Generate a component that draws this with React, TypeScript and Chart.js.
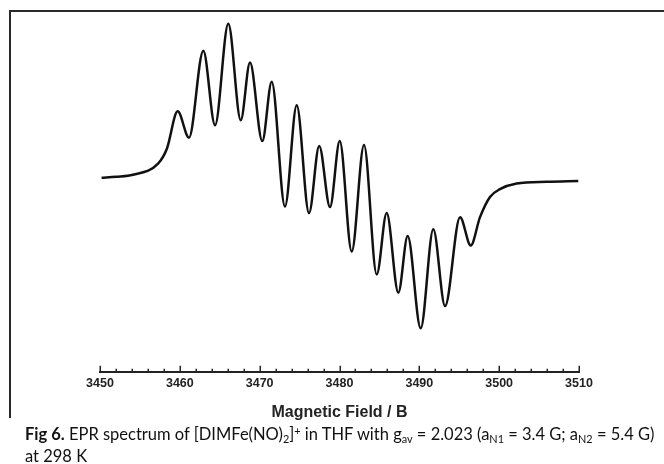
import React, { useEffect, useRef } from 'react';
import { Chart, registerables } from 'chart.js';

Chart.register(...registerables);

// Magnetic field (G) at the curve's turning points / shape points
const fieldB = [
  3450.2, 3452.0, 3454.13, 3457.27, 3458.39, 3459.73, 3461.15, 3462.94, 3464.41,
  3466.07, 3467.63, 3468.79, 3470.33, 3471.51, 3473.17, 3474.64, 3476.18,
  3477.46, 3478.81, 3480.03, 3481.53, 3483.07, 3484.66, 3485.91, 3487.37,
  3488.54, 3490.17, 3491.75, 3493.22, 3495.10, 3496.44, 3497.60, 3498.85,
  3500.10, 3502.20, 3505.96, 3509.91,
];

// EPR first-derivative signal (arbitrary units)
const signal = [
  0, 1, 3, 14, 29, 65.7, 39.7, 125.7, 52,
  152.3, 57, 114, 36.3, 95, -28.5, 71.7, -35,
  31.5, -29, 36.3, -73, 32.3, -95.7, -35, -113.7,
  -57.7, -149, -51, -127, -39, -67, -39, -19,
  -11.3, -5.7, -4, -3.3,
];

const tickLabels = ['3450', '3460', '3470', '3480', '3490', '3500', '3510'];
const axisTitle = 'Magnetic Field / B';

const insideTicks = {
  id: 'insideTicks',
  afterDraw(chart: any) {
    const s = chart.scales.x;
    const ctx = chart.ctx;
    ctx.save();
    ctx.strokeStyle = '#222';
    ctx.lineWidth = 1.5;
    s.ticks.forEach((t: any) => {
      const px = Math.round(s.getPixelForValue(t.value)) + 0.25;
      const major = tickLabels.includes(String(Math.round(t.value)));
      const len = major ? 6 : 3;
      ctx.beginPath();
      ctx.moveTo(px, s.top);
      ctx.lineTo(px, s.top - len);
      ctx.stroke();
    });
    ctx.restore();
  },
};

const subStyle: React.CSSProperties = {
  fontSize: '0.66em',
  verticalAlign: 'baseline',
  position: 'relative',
  top: '0.28em',
};
const supStyle: React.CSSProperties = {
  fontSize: '0.66em',
  verticalAlign: 'baseline',
  position: 'relative',
  top: '-0.45em',
};

export default function App() {
  const ref = useRef<HTMLCanvasElement | null>(null);

  useEffect(() => {
    if (!ref.current) return;
    const font = '"Liberation Sans", Arial, sans-serif';
    const chart = new Chart(ref.current, {
      type: 'line',
      data: {
        datasets: [
          {
            data: fieldB.map((b, i) => ({ x: b, y: signal[i] })),
            borderColor: '#111',
            borderWidth: 2.5,
            pointRadius: 0,
            fill: false,
            cubicInterpolationMode: 'monotone',
          },
        ],
      },
      options: {
        animation: false,
        responsive: false,
        layout: { padding: { left: 100, right: 85, top: 12, bottom: 42 } },
        plugins: { legend: { display: false }, tooltip: { enabled: false } },
        scales: {
          x: {
            type: 'linear',
            min: 3450,
            max: 3510,
            grid: { display: false, drawTicks: false },
            border: { display: true, color: '#222', width: 2 },
            ticks: {
              stepSize: 2,
              autoSkip: false,
              maxRotation: 0,
              padding: 4,
              color: '#222',
              font: { family: font, size: 12.5, weight: 'bold' },
              callback: (v: any) => {
                const r = String(Math.round(Number(v)));
                return tickLabels.includes(r) ? r : '';
              },
            },
            title: {
              display: true,
              text: axisTitle,
              color: '#222',
              font: { family: font, size: 16, weight: 'bold' },
              padding: { top: 8, bottom: 0 },
            },
          },
          y: { display: false, min: -192, max: 164 },
        },
      },
      plugins: [insideTicks],
    } as any);
    return () => chart.destroy();
  }, []);

  return (
    <div style={{ position: 'absolute', left: 0, top: 0, width: 664, height: 464, background: '#fff', overflow: 'hidden' }}>
      <canvas ref={ref} width={664} height={464} style={{ display: 'block', position: 'absolute', left: 0, top: 0 }} />
      <div style={{ position: 'absolute', left: 9, top: 10, width: 655, height: 2, background: '#2a2a2a' }} />
      <div style={{ position: 'absolute', left: 9, top: 10, width: 2, height: 408, background: '#2a2a2a' }} />
      <div
        style={{
          position: 'absolute',
          left: 25,
          top: 424,
          width: 660,
          fontFamily: 'Lato, "Noto Sans", sans-serif',
          fontSize: 16.5,
          lineHeight: '20px',
          color: '#111',
          whiteSpace: 'nowrap',
        }}
      >
        <div>
          <b>Fig 6.</b> EPR spectrum of [DIMFe(NO)<span style={subStyle}>2</span>]<span style={supStyle}>+</span> in THF with g
          <span style={subStyle}>av</span> = 2.023 (a<span style={subStyle}>N1</span> = 3.4 G; a<span style={subStyle}>N2</span> = 5.4 G)
        </div>
        <div>at 298 K</div>
      </div>
    </div>
  );
}
